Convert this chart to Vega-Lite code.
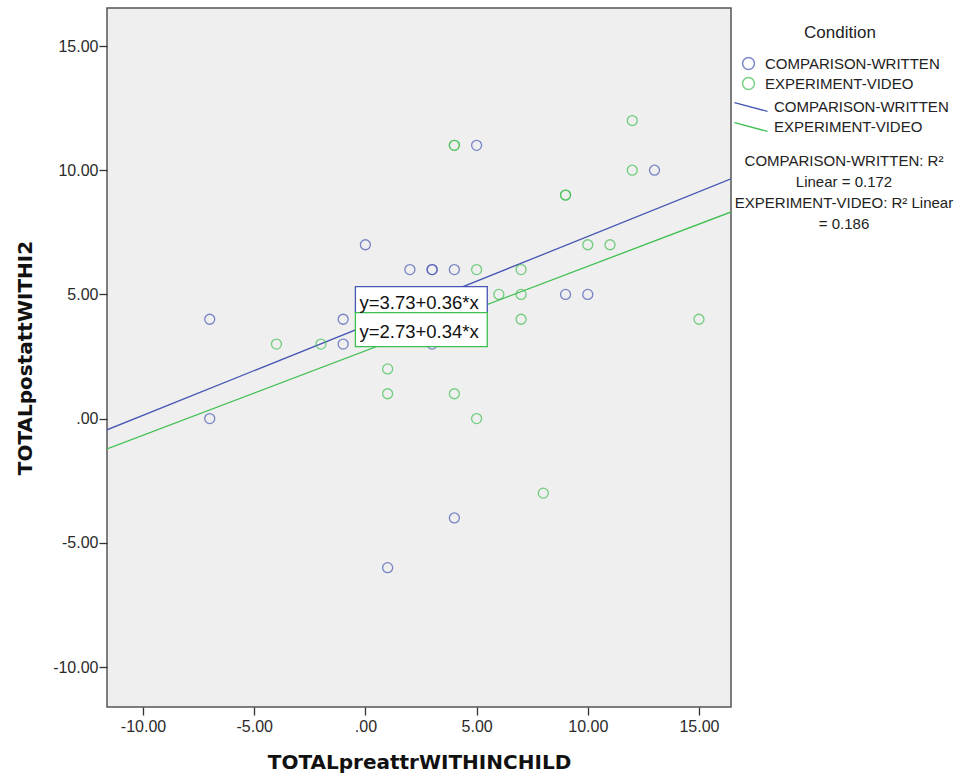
{
  "$schema": "https://vega.github.io/schema/vega-lite/v6.json",
  "width": 624,
  "height": 699,
  "autosize": {"type": "none"},
  "padding": {"left": 107, "top": 8, "right": 240, "bottom": 69},
  "background": "white",
  "config": {
    "view": {"fill": "#efefef", "stroke": "#555555", "strokeWidth": 1.5},
    "font": "Liberation Sans",
    "axis": {"grid": false, "domain": false, "tickColor": "#333333", "tickSize": 8, "tickWidth": 1.3, "labelFontSize": 16, "labelColor": "#2a2a2a", "labelFont": "Liberation Sans", "titleFontSize": 20, "titleFontWeight": "bold", "titleColor": "#111111", "titleFont": "DejaVu Sans"}
  },
  "datasets": {
    "points": [
      {"Condition": "COMPARISON-WRITTEN", "pre": -7, "post": 4},
      {"Condition": "COMPARISON-WRITTEN", "pre": -7, "post": 0},
      {"Condition": "COMPARISON-WRITTEN", "pre": -1, "post": 4},
      {"Condition": "COMPARISON-WRITTEN", "pre": -1, "post": 3},
      {"Condition": "COMPARISON-WRITTEN", "pre": 0, "post": 7},
      {"Condition": "COMPARISON-WRITTEN", "pre": 2, "post": 6},
      {"Condition": "COMPARISON-WRITTEN", "pre": 3, "post": 6},
      {"Condition": "COMPARISON-WRITTEN", "pre": 3, "post": 6},
      {"Condition": "COMPARISON-WRITTEN", "pre": 4, "post": 6},
      {"Condition": "COMPARISON-WRITTEN", "pre": 3, "post": 3},
      {"Condition": "COMPARISON-WRITTEN", "pre": 5, "post": 11},
      {"Condition": "COMPARISON-WRITTEN", "pre": 9, "post": 5},
      {"Condition": "COMPARISON-WRITTEN", "pre": 10, "post": 5},
      {"Condition": "COMPARISON-WRITTEN", "pre": 13, "post": 10},
      {"Condition": "COMPARISON-WRITTEN", "pre": 4, "post": -4},
      {"Condition": "COMPARISON-WRITTEN", "pre": 1, "post": -6},
      {"Condition": "EXPERIMENT-VIDEO", "pre": -4, "post": 3},
      {"Condition": "EXPERIMENT-VIDEO", "pre": -2, "post": 3},
      {"Condition": "EXPERIMENT-VIDEO", "pre": 4, "post": 11},
      {"Condition": "EXPERIMENT-VIDEO", "pre": 4, "post": 11},
      {"Condition": "EXPERIMENT-VIDEO", "pre": 9, "post": 9},
      {"Condition": "EXPERIMENT-VIDEO", "pre": 9, "post": 9},
      {"Condition": "EXPERIMENT-VIDEO", "pre": 12, "post": 12},
      {"Condition": "EXPERIMENT-VIDEO", "pre": 12, "post": 10},
      {"Condition": "EXPERIMENT-VIDEO", "pre": 10, "post": 7},
      {"Condition": "EXPERIMENT-VIDEO", "pre": 11, "post": 7},
      {"Condition": "EXPERIMENT-VIDEO", "pre": 5, "post": 6},
      {"Condition": "EXPERIMENT-VIDEO", "pre": 7, "post": 6},
      {"Condition": "EXPERIMENT-VIDEO", "pre": 6, "post": 5},
      {"Condition": "EXPERIMENT-VIDEO", "pre": 7, "post": 5},
      {"Condition": "EXPERIMENT-VIDEO", "pre": 7, "post": 4},
      {"Condition": "EXPERIMENT-VIDEO", "pre": 15, "post": 4},
      {"Condition": "EXPERIMENT-VIDEO", "pre": 1, "post": 2},
      {"Condition": "EXPERIMENT-VIDEO", "pre": 1, "post": 1},
      {"Condition": "EXPERIMENT-VIDEO", "pre": 4, "post": 1},
      {"Condition": "EXPERIMENT-VIDEO", "pre": 5, "post": 0},
      {"Condition": "EXPERIMENT-VIDEO", "pre": 8, "post": -3}
    ],
    "fits": [
      {"Condition": "COMPARISON-WRITTEN", "pre": -11.62, "post": -0.45},
      {"Condition": "COMPARISON-WRITTEN", "pre": 16.44, "post": 9.65},
      {"Condition": "EXPERIMENT-VIDEO", "pre": -11.62, "post": -1.22},
      {"Condition": "EXPERIMENT-VIDEO", "pre": 16.44, "post": 8.32}
    ],
    "boxes": [
      {"Condition": "COMPARISON-WRITTEN", "label": "y=3.73+0.36*x", "x1": -0.45, "x2": 5.48, "y1": 5.31, "y2": 4.27, "ty": 4.64},
      {"Condition": "EXPERIMENT-VIDEO", "label": "y=2.73+0.34*x", "x1": -0.45, "x2": 5.48, "y1": 4.27, "y2": 2.9, "ty": 3.5}
    ]
  },
  "layer": [
    {
      "data": {"name": "fits"},
      "mark": {"type": "line", "strokeWidth": 1.3, "clip": true},
      "encoding": {
        "x": {"field": "pre", "type": "quantitative", "title": "TOTALpreattrWITHINCHILD",
              "scale": {"domain": [-11.62, 16.44], "nice": false, "zero": false},
              "axis": {"values": [-10, -5, 0, 5, 10, 15], "labelExpr": "datum.value == 0 ? '.00' : replace(format(datum.value, '.2f'), '−', '-')", "labelPadding": 3, "titlePadding": 18}},
        "y": {"field": "post", "type": "quantitative", "title": "TOTALpostattWITHI2",
              "scale": {"domain": [-11.61, 16.53], "nice": false, "zero": false},
              "axis": {"values": [-10, -5, 0, 5, 10, 15], "labelExpr": "datum.value == 0 ? '.00' : replace(format(datum.value, '.2f'), '−', '-')", "labelPadding": 1, "titlePadding": 17}},
        "color": {"field": "Condition", "type": "nominal",
                  "scale": {"domain": ["COMPARISON-WRITTEN", "EXPERIMENT-VIDEO"], "range": ["#4656b4", "#3fbf50"]},
                  "legend": {"title": ["COMPARISON-WRITTEN: R²", "Linear = 0.172", "EXPERIMENT-VIDEO: R² Linear", "= 0.186"],
                             "titleOrient": "bottom", "titleAnchor": "middle", "titleAlign": "center",
                             "titleFontSize": 15, "titleFontWeight": "normal", "titleColor": "#222222", "titleLineHeight": 21, "titlePadding": 19, "titleLimit": 400,
                             "orient": "none", "legendX": 628, "legendY": 87,
                             "symbolType": "M-1.5,-0.4L1.5,0.4", "symbolSize": 484, "symbolStrokeWidth": 1.3,
                             "labelFontSize": 15, "labelColor": "#222222", "labelLimit": 300, "labelOffset": 11, "rowPadding": 0}}
      }
    },
    {
      "data": {"name": "points"},
      "mark": {"type": "point", "shape": "circle", "filled": false, "size": 100, "strokeWidth": 1.3},
      "encoding": {
        "x": {"field": "pre", "type": "quantitative"},
        "y": {"field": "post", "type": "quantitative"},
        "color": {"field": "Condition", "type": "nominal",
                  "scale": {"domain": ["COMPARISON-WRITTEN", "EXPERIMENT-VIDEO"], "range": ["#4656b4", "#3fbf50"]},
                  "legend": {"title": "Condition", "titleAnchor": "middle", "titleFontSize": 17, "titleFontWeight": "normal", "titleColor": "#222222", "titlePadding": 14,
                             "orient": "none", "legendX": 634, "legendY": 17,
                             "symbolType": "circle", "symbolSize": 140, "symbolStrokeWidth": 1.5,
                             "labelFontSize": 15, "labelColor": "#222222", "labelLimit": 300, "labelOffset": 9, "rowPadding": 1}}
      }
    },
    {
      "data": {"name": "boxes"},
      "mark": {"type": "rect", "fill": "white", "strokeWidth": 1.3},
      "encoding": {
        "x": {"field": "x1", "type": "quantitative"},
        "x2": {"field": "x2"},
        "y": {"field": "y1", "type": "quantitative"},
        "y2": {"field": "y2"},
        "stroke": {"field": "Condition", "type": "nominal", "scale": {"domain": ["COMPARISON-WRITTEN", "EXPERIMENT-VIDEO"], "range": ["#4656b4", "#3fbf50"]}, "legend": null}
      }
    },
    {
      "data": {"name": "boxes"},
      "mark": {"type": "text", "align": "left", "baseline": "middle", "fontSize": 18.5, "font": "Liberation Sans", "color": "#111111", "dx": 4},
      "encoding": {
        "x": {"field": "x1", "type": "quantitative"},
        "y": {"field": "ty", "type": "quantitative"},
        "text": {"field": "label"}
      }
    }
  ],
  "resolve": {"scale": {"color": "independent"}, "legend": {"color": "independent"}}
}
